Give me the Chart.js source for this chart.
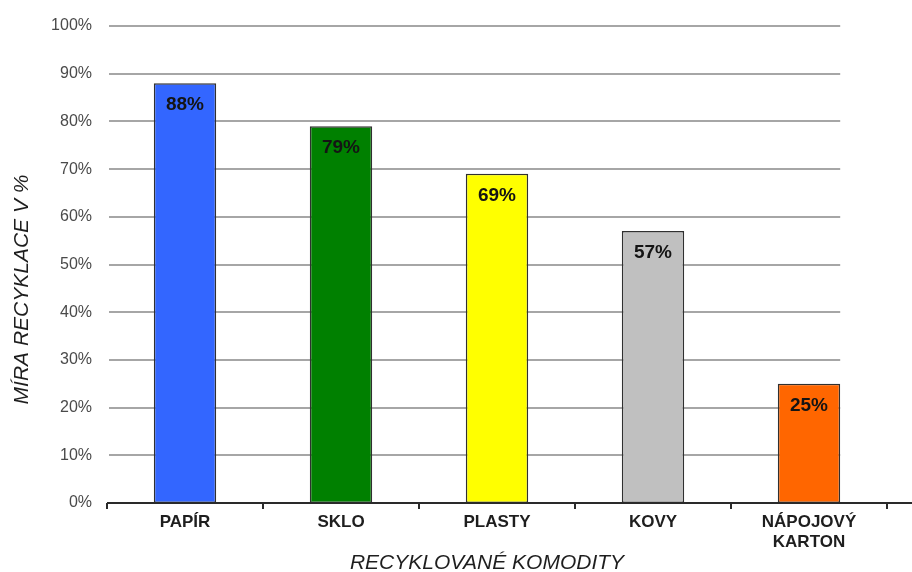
<!DOCTYPE html>
<html>
<head>
<meta charset="utf-8">
<script src="https://cdn.jsdelivr.net/npm/chart.js@4/dist/chart.umd.min.js"></script>
<style>
  html, body { margin: 0; padding: 0; background: #fff; }
  #wrap { width: 912px; height: 572px; }
</style>
</head>
<body>
<div id="wrap"><canvas id="c" width="912" height="572"></canvas></div>
<script>
// Recycling rates by commodity
const categories = ['PAPÍR', 'SKLO', 'PLASTY', 'KOVY', ['NÁPOJOVÝ', 'KARTON']];
const rates = [88, 79, 69, 57, 25];
const barColors = ['#3366FF', '#008000', '#FFFF00', '#C0C0C0', '#FF6600'];
const yTicks = [0, 10, 20, 30, 40, 50, 60, 70, 80, 90, 100];
const xTitle = 'RECYKLOVANÉ KOMODITY';
const yTitle = 'MÍRA RECYKLACE V %';

const FONT = "'Liberation Sans', Arial, sans-serif";

// Horizontal gridlines, running from the axis to the right edge of the last bar
const gridPlugin = {
  id: 'gridLines',
  beforeDatasetsDraw(chart) {
    const { ctx, chartArea, scales } = chart;
    const bars = chart.getDatasetMeta(0).data;
    const last = bars[bars.length - 1];
    const right = last.x + last.width / 2;
    ctx.save();
    ctx.strokeStyle = '#A6A6A6';
    ctx.lineWidth = 2;
    yTicks.forEach(v => {
      if (v === 0) return;
      const y = Math.round(scales.y.getPixelForValue(v));
      ctx.beginPath();
      ctx.moveTo(chartArea.left + 2, y);
      ctx.lineTo(right, y);
      ctx.stroke();
    });
    ctx.restore();
  }
};

// Baseline, value labels and axis titles
const decorPlugin = {
  id: 'decor',
  afterDatasetsDraw(chart) {
    const { ctx, chartArea, scales } = chart;
    ctx.save();
    // x axis baseline
    const y0 = scales.y.getPixelForValue(0);
    ctx.strokeStyle = '#2a2a2a';
    ctx.lineWidth = 2;
    ctx.beginPath();
    ctx.moveTo(chartArea.left, y0);
    ctx.lineTo(chart.width, y0);
    ctx.stroke();

    // value labels inside the top of each bar
    ctx.fillStyle = '#141414';
    ctx.font = 'bold 19px ' + FONT;
    ctx.textAlign = 'center';
    ctx.textBaseline = 'middle';
    chart.getDatasetMeta(0).data.forEach((bar, i) => {
      ctx.fillText(rates[i] + '%', bar.x, bar.y + 22);
    });

    // axis titles
    ctx.fillStyle = '#1e1e1e';
    ctx.font = 'italic 21px ' + FONT;
    ctx.fillText(xTitle, (chartArea.left + chartArea.right) / 2 - 10, chart.height - 9);
    ctx.translate(22, (chartArea.top + chartArea.bottom) / 2 + 25);
    ctx.rotate(-Math.PI / 2);
    ctx.fillText(yTitle, 0, 0);
    ctx.restore();
  }
};

new Chart(document.getElementById('c'), {
  type: 'bar',
  data: {
    labels: categories,
    datasets: [{
      data: rates,
      backgroundColor: barColors,
      borderColor: '#303030',
      borderWidth: 1.5,
      borderSkipped: false,
      barPercentage: 0.4,
      categoryPercentage: 1.0
    }]
  },
  options: {
    responsive: false,
    animation: false,
    layout: { padding: { top: 26, right: 25, bottom: 0, left: 0 } },
    plugins: {
      legend: { display: false },
      tooltip: { enabled: false }
    },
    scales: {
      x: {
        offset: true,
        border: { display: false },
        grid: {
          offset: true,
          drawOnChartArea: false,
          drawTicks: true,
          tickLength: 6,
          color: '#2a2a2a',
          lineWidth: 2
        },
        ticks: {
          color: '#1e1e1e',
          font: { family: FONT, size: 17, weight: 'bold', lineHeight: 1.2 },
          padding: 3,
          maxRotation: 0,
          autoSkip: false
        },
        afterFit(scale) { scale.height = 69; }
      },
      y: {
        min: 0,
        max: 100,
        border: { display: false },
        grid: { display: false, drawTicks: false },
        afterBuildTicks(scale) { scale.ticks = yTicks.map(v => ({ value: v })); },
        ticks: {
          color: '#4a4a4a',
          font: { family: FONT, size: 16 },
          padding: 15,
          callback: v => v + '%'
        },
        afterFit(scale) { scale.width = 107; }
      }
    }
  },
  plugins: [gridPlugin, decorPlugin]
});
</script>
</body>
</html>
